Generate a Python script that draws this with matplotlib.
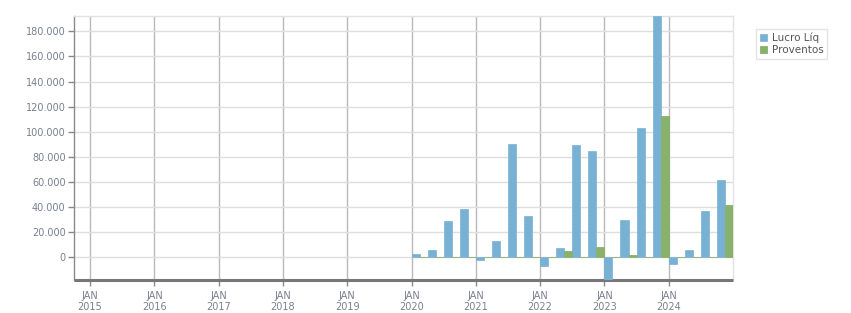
import matplotlib.pyplot as plt
import numpy as np
from matplotlib.ticker import FuncFormatter, FixedLocator

# DATA (quarterly, 2020 Q1 .. 2024 Q4)
quarters = [f"{y}Q{q}" for y in range(2020, 2025) for q in range(1, 5)]
lucro_liq = [2700, 5900, 28300, 37900,
             -2100, 13100, 89900, 32300,
             -6900, 7500, 89100, 84300,
             -22000, 29100, 102700, 192000,
             -5300, 5900, 36300, 61100]
proventos = [0, 0, 0, 0,
             0, 0, 0, 0,
             0, 5100, 0, 8300,
             0, 1600, 0, 112300,
             0, 0, 0, 41100]
year_ticks = list(range(2015, 2025))
y_ticks = list(range(0, 180001, 20000))

# STYLE
BLUE = "#78B1D3"
GREEN = "#88B16A"
TEXT = "#7a7f8f"

fig = plt.figure(figsize=(8.51, 3.13), dpi=100)
ax = fig.add_axes([74 / 851, 1 - 280 / 313, 659 / 851, 264 / 313])

# quarter positions in years
x = np.array([int(q[:4]) + (int(q[-1]) - 1) / 4 for q in quarters])
w = 0.125

ax.bar(x, lucro_liq, width=w, align="edge", color=BLUE,
       edgecolor=BLUE, linewidth=0.5, zorder=3, label="Lucro Líq")
ax.bar(x + w, proventos, width=w, align="edge", color=GREEN,
       edgecolor=GREEN, linewidth=0.6, zorder=3, label="Proventos")

ax.set_xlim(2014.75, 2025.0)
ax.set_ylim(-18400, 192300)

# y axis
ax.yaxis.set_major_locator(FixedLocator(y_ticks))
ax.yaxis.set_major_formatter(FuncFormatter(lambda v, p: f"{int(v):,}".replace(",", ".")))
ax.grid(axis="y", color="#dedede", linewidth=1, zorder=0)

# x axis: JAN ticks with vertical grid lines
ax.set_xticks(year_ticks)
ax.set_xticklabels([f"JAN\n{y}" for y in year_ticks], linespacing=1.05)
for y in year_ticks:
    ax.axvline(y, color="#b8b8b8", linewidth=1, zorder=1)

ax.tick_params(axis="both", labelsize=7, colors="#888888", labelcolor=TEXT,
               length=4, width=1)
ax.tick_params(axis="x", pad=4)
ax.tick_params(axis="y", pad=2)

for side in ["top", "right"]:
    ax.spines[side].set_color("#e2e2e2")
    ax.spines[side].set_linewidth(1)
ax.spines["left"].set_color("#8a8a8a")
ax.spines["left"].set_linewidth(1)
ax.spines["bottom"].set_color("#777777")
ax.spines["bottom"].set_linewidth(2.2)
ax.spines["bottom"].set_capstyle("butt")

# legend
leg = fig.legend(loc="upper left", bbox_to_anchor=(756 / 851, 1 - 29 / 313),
                 fontsize=7.5, frameon=True, fancybox=False,
                 handlelength=0.75, handleheight=0.75, handletextpad=0.4,
                 borderpad=0.35, labelspacing=0.2, borderaxespad=0)
leg.get_frame().set_edgecolor("#dddddd")
leg.get_frame().set_linewidth(1)
for t in leg.get_texts():
    t.set_color("#555555")

fig.savefig("out.png", dpi=100)
